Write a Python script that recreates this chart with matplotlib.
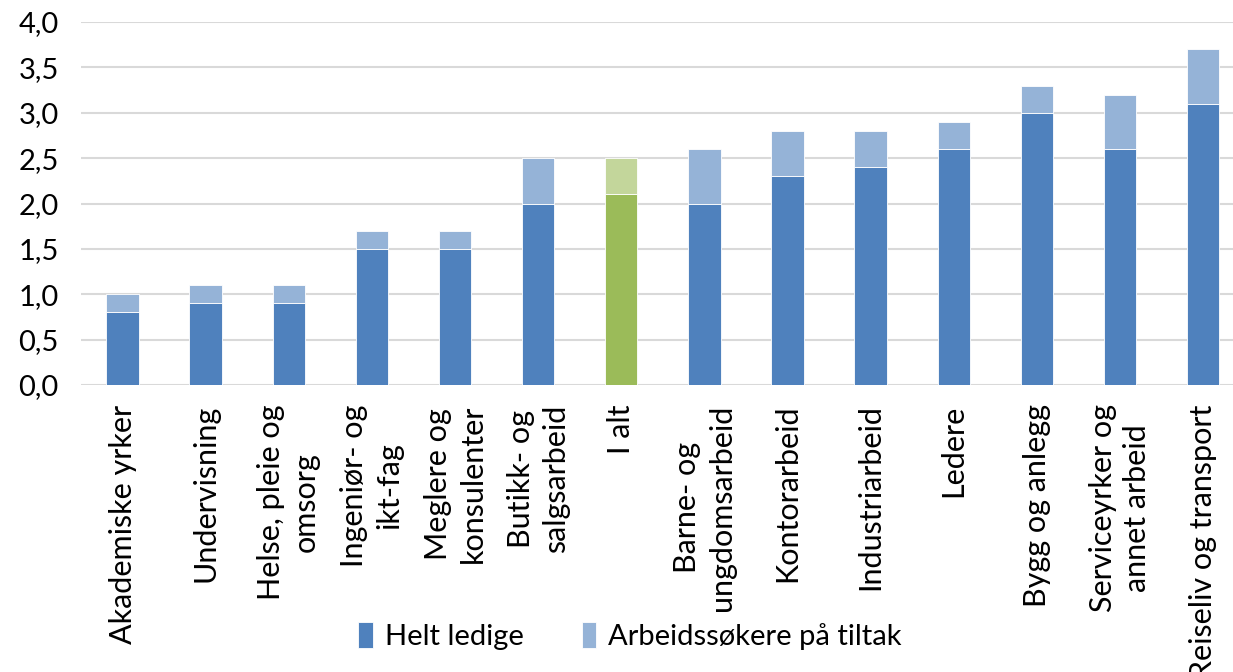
import matplotlib.pyplot as plt
import numpy as np

categories = ["Akademiske yrker", "Undervisning", "Helse, pleie og\nomsorg",
              "Ingeniør- og\nikt-fag", "Meglere og\nkonsulenter", "Butikk- og\nsalgsarbeid",
              "I alt", "Barne- og\nungdomsarbeid", "Kontorarbeid", "Industriarbeid",
              "Ledere", "Bygg og anlegg", "Serviceyrker og\nannet arbeid", "Reiseliv og transport"]
helt_ledige = [0.8, 0.9, 0.9, 1.5, 1.5, 2.0, 2.1, 2.0, 2.3, 2.4, 2.6, 3.0, 2.6, 3.1]
tiltak = [0.2, 0.2, 0.2, 0.2, 0.2, 0.5, 0.4, 0.6, 0.5, 0.4, 0.3, 0.3, 0.6, 0.6]
yticks = [0.0, 0.5, 1.0, 1.5, 2.0, 2.5, 3.0, 3.5, 4.0]

plt.rcParams['font.family'] = ['Lato', 'DejaVu Sans']

fig = plt.figure(figsize=(12.33, 6.72), dpi=100)
ax = fig.add_axes([81/1233, 1-385/672, 1-81/1233, (385-22)/672])

x = np.arange(len(categories))
dark = ['#9BBB59' if c == "I alt" else '#4F81BD' for c in categories]
light = ['#C3D69B' if c == "I alt" else '#95B3D7' for c in categories]
w = 0.39
ax.bar(x, helt_ledige, width=w, color=dark, edgecolor='white', linewidth=0.6, label='Helt ledige', zorder=3)
ax.bar(x, tiltak, bottom=helt_ledige, width=w, color=light, edgecolor='white', linewidth=0.6,
       label='Arbeidssøkere på tiltak', zorder=3)

ax.set_xlim(-0.5, 13.36)
ax.set_ylim(0, 4.0)
ax.set_yticks(yticks)
ax.set_yticklabels([f"{v:.1f}".replace('.', ',') for v in yticks], fontsize=21)
ax.yaxis.grid(True, color='#D9D9D9', linewidth=1.5, zorder=0)
ax.set_axisbelow(True)
for s in ax.spines.values():
    s.set_visible(False)
ax.tick_params(axis='both', length=0)
ax.tick_params(axis='y', pad=16)
ax.set_xticks(x)
ax.set_xticklabels(categories, rotation=90, fontsize=22, ha='center', va='top',
                   multialignment='center', linespacing=1.3)
ax.tick_params(axis='x', pad=14)

h, l = ax.get_legend_handles_labels()
fig.legend(h, l, loc='center', bbox_to_anchor=(630/1233, 1-636/672), ncol=2, frameon=False,
           fontsize=21, handlelength=0.5, handleheight=1.0, handletextpad=0.4, columnspacing=2.0)

fig.savefig('out.png', dpi=100)
